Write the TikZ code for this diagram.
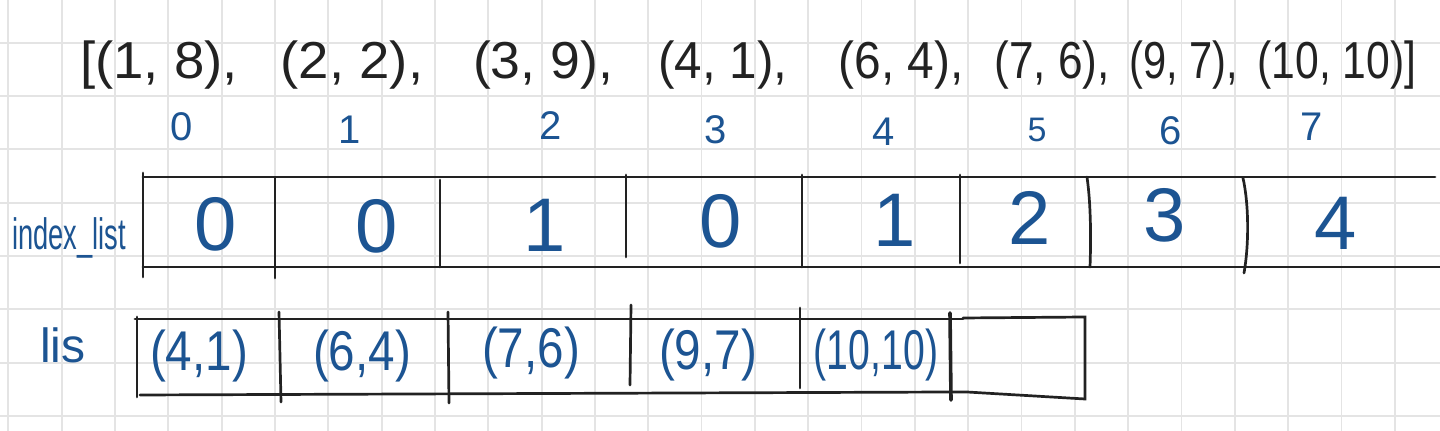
\documentclass[tikz,border=0pt]{standalone}
\usepackage{fontspec}
\setmainfont{Liberation Sans}
\definecolor{ink}{RGB}{28,84,146}
\definecolor{pen}{RGB}{34,34,34}
\definecolor{gridc}{RGB}{228,228,228}
\newcommand{\xsq}[2]{\scalebox{#1}[1]{#2}}
\tikzset{
  gridline/.style={draw=gridc, line width=0.9pt},
  boxline/.style={draw=pen, line width=1.35pt, line cap=round},
  titletxt/.style={text=pen, font=\fontsize{26}{30}\selectfont, inner sep=0pt, anchor=base},
  idxtxt/.style={text=ink, font=\fontsize{20}{24}\selectfont, inner sep=0pt},
  valtxt/.style={text=ink, font=\fontsize{38}{44}\selectfont, inner sep=0pt},
  listxt/.style={text=ink, font=\fontsize{28}{32}\selectfont, inner sep=0pt},
  lbltxt/.style={text=ink, inner sep=0pt, anchor=base},
}
\begin{document}
\begin{tikzpicture}[x=0.5pt, y=-0.5pt]
\useasboundingbox (0,0) rectangle (1440,431);
\fill[white] (0,0) rectangle (1440,431);
% grid paper
\foreach \k in {0,...,26} \draw[gridline] ({8.3+53.33*\k},0) -- ({8.3+53.33*\k},431);
\foreach \k in {0,...,7} \draw[gridline] (0,{42.7+53.33*\k}) -- (1440,{42.7+53.33*\k});

% title list
\node[titletxt] (t1) at (159,79) {\xsq{1.05}{[(1, 8),}};
\node[titletxt] (t2) at (352,79) {\xsq{1.05}{(2, 2),}};
\node[titletxt] (t3) at (543,79) {\xsq{1.03}{(3, 9),}};
\node[titletxt] (t4) at (723,79) {\xsq{0.95}{(4, 1),}};
\node[titletxt] (t5) at (901,79) {\xsq{0.92}{(6, 4),}};
\node[titletxt] (t6) at (1052,79) {\xsq{0.85}{(7, 6),}};
\node[titletxt] (t7) at (1184,79) {\xsq{0.8}{(9, 7),}};
\node[titletxt] (t8) at (1337,79) {\xsq{0.82}{(10, 10)]}};

% indices
\node[idxtxt] (i0) at (182,127) {0};
\node[idxtxt] (i1) at (350,130) {1};
\node[idxtxt] (i2) at (551,126) {2};
\node[idxtxt] (i3) at (716,130) {3};
\node[idxtxt] (i4) at (884,132) {4};
\node[idxtxt, font=\fontsize{17}{20}\selectfont] (i5) at (1037,130) {5};
\node[idxtxt] (i6) at (1171,131) {6};
\node[idxtxt] (i7) at (1312,127) {7};

% index_list label and box
\node[lbltxt, font=\fontsize{22}{26}\selectfont] (lblIndex) at (69,250) {\xsq{0.62}{index\_list}};
\draw[boxline] (143,177) -- (1435,177);
\draw[boxline] (143,267) -- (1440,267);
\draw[boxline] (143,173) -- (143,277);
\draw[boxline] (275,178) -- (275,278);
\draw[boxline] (440,180) -- (440,267);
\draw[boxline] (626,175) -- (626,257);
\draw[boxline] (802,175) -- (802,267);
\draw[boxline] (960,175) -- (960,263);
\draw[boxline] (1087,177) .. controls (1091,205) and (1091,240) .. (1090,267);
\draw[boxline] (1243,178) .. controls (1249,205) and (1249,245) .. (1244,273);

\node[valtxt] (v0) at (216,224) {0};
\node[valtxt] (v1) at (377,226) {0};
\node[valtxt] (v2) at (545,225) {1};
\node[valtxt] (v3) at (721,221) {0};
\node[valtxt] (v4) at (895,220) {1};
\node[valtxt] (v5) at (1030,218) {2};
\node[valtxt] (v6) at (1165,215) {3};
\node[valtxt] (v7) at (1336,223) {4};

% lis label and box
\node[lbltxt, font=\fontsize{24}{28}\selectfont] (lblLis) at (63,363) {lis};
\draw[boxline] (135,319) -- (963,319);
\draw[boxline] (963,318) -- (1085,317) -- (1085,399) -- (967,392) -- (950,392);
\draw[boxline] (950,392) -- (140,395);
\draw[boxline] (137,317) -- (137,397);
\draw[boxline] (279,312) -- (281,402);
\draw[boxline] (448,312) -- (449,403);
\draw[boxline] (631,305) -- (630,385);
\draw[boxline] (800,308) -- (800,388);
\draw[boxline, line width=1.8pt] (950,313) -- (951,400);

\node[listxt] (l0) at (199,356) {\xsq{0.85}{(4,1)}};
\node[listxt] (l1) at (362,356) {\xsq{0.85}{(6,4)}};
\node[listxt] (l2) at (531,353) {\xsq{0.85}{(7,6)}};
\node[listxt] (l3) at (708,355) {\xsq{0.85}{(9,7)}};
\node[listxt] (l4) at (876,355) {\xsq{0.7}{(10,10)}};
\end{tikzpicture}
\end{document}
